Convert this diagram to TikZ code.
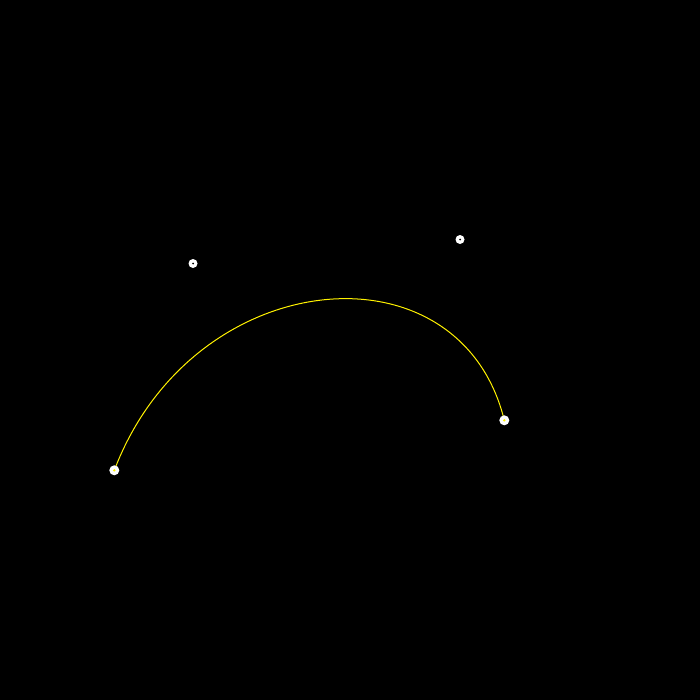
\documentclass[tikz,border=0pt]{standalone}
\begin{document}
\begin{tikzpicture}[x=1bp,y=-1bp,
  endpt/.style={circle,fill=white,inner sep=0pt,minimum size=10bp},
  ctrlpt/.style={circle,fill=white,inner sep=0pt,minimum size=9bp},
  curveline/.style={yellow,line width=1bp}]
\fill[black] (0,0) rectangle (700,700);
\useasboundingbox (0,0) rectangle (700,700);
\coordinate (A) at (114.3,470.3);
\coordinate (C1) at (193,263.5);
\coordinate (C2) at (460,239.5);
\coordinate (B) at (504.3,420.3);
\draw[curveline] (A) .. controls (C1) and (C2) .. (B);
\node[endpt] (a) at (A) {};
\node[endpt] (b) at (B) {};
\node[ctrlpt] (c1) at (C1) {};
\node[ctrlpt] (c2) at (C2) {};
\fill[yellow] (a.center) circle (1.3bp);
\fill[yellow] (b.center) circle (1.3bp);
\fill[black] (c1.center) circle (1bp);
\fill[black] (c2.center) circle (1bp);
\end{tikzpicture}
\end{document}
